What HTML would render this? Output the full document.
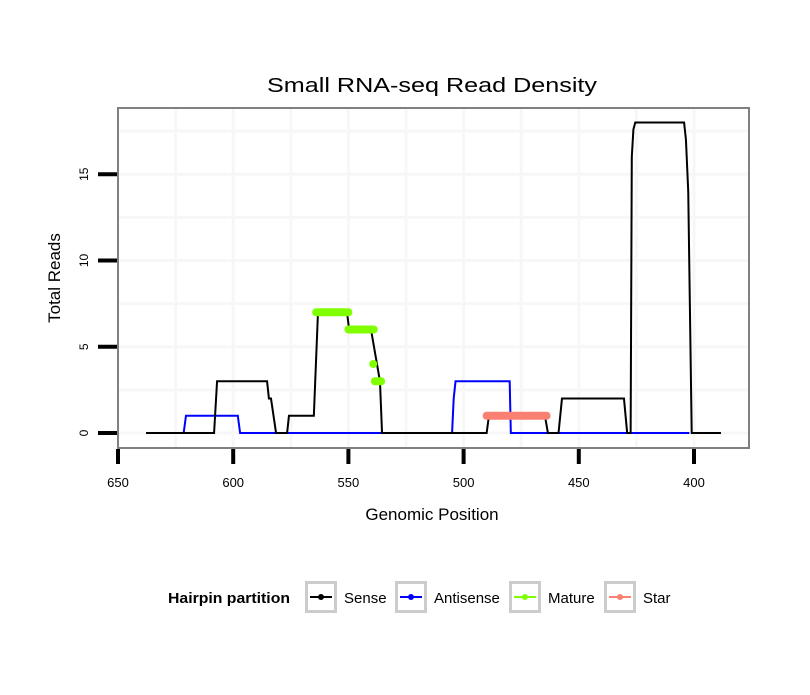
<!DOCTYPE html>
<html><head><meta charset="utf-8"><style>
body{margin:0;background:#fff;}
svg text{font-family:"Liberation Sans",Arial,sans-serif;}
</style></head><body>
<svg id="chart" width="810" height="690" xmlns="http://www.w3.org/2000/svg">
<rect width="810" height="690" fill="#fff"/>
<text x="432" y="92" font-size="20" text-anchor="middle" textLength="330" lengthAdjust="spacingAndGlyphs">Small RNA-seq Read Density</text>
<g id="grid"></g>
<g id="series"></g>
<rect x="118" y="108" width="631" height="340" fill="none" stroke="#808080" stroke-width="2"/>
<g id="axes"></g>
<text x="432" y="520" font-size="17" text-anchor="middle">Genomic Position</text>
<text transform="translate(60,278) rotate(-90)" font-size="17" text-anchor="middle">Total Reads</text>
<g>
<text x="168" y="603" font-size="15" font-weight="bold" textLength="122" lengthAdjust="spacingAndGlyphs">Hairpin partition</text>
<g><rect x="306.5" y="582.5" width="29" height="29" fill="#fff" stroke="#ccc" stroke-width="3"/><line x1="310" y1="597" x2="332" y2="597" stroke="#000" stroke-width="2"/><circle cx="321" cy="597" r="3" fill="#000"/><text x="344" y="603" font-size="15">Sense</text></g>
<g><rect x="396.5" y="582.5" width="29" height="29" fill="#fff" stroke="#ccc" stroke-width="3"/><line x1="400" y1="597" x2="422" y2="597" stroke="#00f" stroke-width="2"/><circle cx="411" cy="597" r="3" fill="#00f"/><text x="434" y="603" font-size="15">Antisense</text></g>
<g><rect x="510.5" y="582.5" width="29" height="29" fill="#fff" stroke="#ccc" stroke-width="3"/><line x1="514" y1="597" x2="536" y2="597" stroke="#7fff00" stroke-width="2"/><circle cx="525" cy="597" r="3" fill="#7fff00"/><text x="548" y="603" font-size="15">Mature</text></g>
<g><rect x="605.5" y="582.5" width="29" height="29" fill="#fff" stroke="#ccc" stroke-width="3"/><line x1="609" y1="597" x2="631" y2="597" stroke="#fa8072" stroke-width="2"/><circle cx="620" cy="597" r="3" fill="#fa8072"/><text x="643" y="603" font-size="15">Star</text></g>
</g>
</svg>
<script>
const xTicks=[650,600,550,500,450,400];
const yTicks=[0,5,10,15];
const sensePos=[637.8,608.3,607,585.3,584.5,583.6,581.4,576.6,575.8,565,563.2,550.6,549.7,540.2,536.3,535.4,490,489,464.7,463.4,458.8,457.3,430.4,429,427.5,427,426.3,425.5,404.3,403.5,402.5,401,388.3];
const senseVal=[0,0,3,3,2,2,0,0,1,1,7,7,6,6,3,0,0,1,1,0,0,2,2,0,0,16,17.6,18,18,17,14,0,0];
const antiPos=[637.8,621.5,620.5,598,597,505,504.3,503.5,480,479.5,402];
const antiVal=[0,0,1,1,0,0,2,3,3,0,0];
const maturePos=[[564,550],[550,539],[539.2,539.2],[538.5,535.8]];
const matureVal=[7,6,4,3];
const starPos=[[490,464]];
const starVal=[1];
const NS='http://www.w3.org/2000/svg';
const X=p=>118+(650-p)*2.304;
const Y=v=>433-v*17.25;
function mk(tag,attrs,parent){const e=document.createElementNS(NS,tag);for(const k in attrs)e.setAttribute(k,attrs[k]);parent.appendChild(e);return e;}
const grid=document.getElementById('grid'),series=document.getElementById('series'),axes=document.getElementById('axes');
mk('rect',{x:118,y:108,width:631,height:340,fill:'#fff'},grid);
for(let p=375;p<=650;p+=25){const x=X(p);if(x<119||x>748)continue;const l=mk('line',{x1:x,x2:x,y1:109,y2:447,stroke:'#f7f7f7','stroke-width':3},grid);

}
for(let v=0;v<=17.5;v+=2.5){const y=Y(v);const l=mk('line',{x1:119,x2:748,y1:y,y2:y,stroke:'#f7f7f7','stroke-width':3},grid);

}
const ant=mk('polyline',{points:antiPos.map((p,i)=>X(p)+','+Y(antiVal[i])).join(' '),fill:'none',stroke:'#00f','stroke-width':2},series);


const sen=mk('polyline',{points:sensePos.map((p,i)=>X(p)+','+Y(senseVal[i])).join(' '),fill:'none',stroke:'#000','stroke-width':2},series);


maturePos.forEach((r,i)=>{const s=mk('line',{x1:X(r[0]),x2:X(r[1]),y1:Y(matureVal[i]),y2:Y(matureVal[i]),stroke:'#7fff00','stroke-width':8,'stroke-linecap':'round'},series);

});
starPos.forEach((r,i)=>{const s=mk('line',{x1:X(r[0]),x2:X(r[1]),y1:Y(starVal[i]),y2:Y(starVal[i]),stroke:'#fa8072','stroke-width':8,'stroke-linecap':'round'},series);

});
xTicks.forEach(t=>{const x=X(t);const l=mk('line',{x1:x,x2:x,y1:449,y2:464,stroke:'#000','stroke-width':4},axes);


const tx=mk('text',{x:x,y:487,'font-size':13,'text-anchor':'middle'},axes);tx.textContent=t;

});
yTicks.forEach(t=>{const y=Y(t);const l=mk('line',{x1:98,x2:117,y1:y,y2:y,stroke:'#000','stroke-width':4},axes);


const tx=mk('text',{transform:`translate(88,${y}) rotate(-90)`,'font-size':12,'text-anchor':'middle'},axes);tx.textContent=t;

});
</script>
</body></html>
